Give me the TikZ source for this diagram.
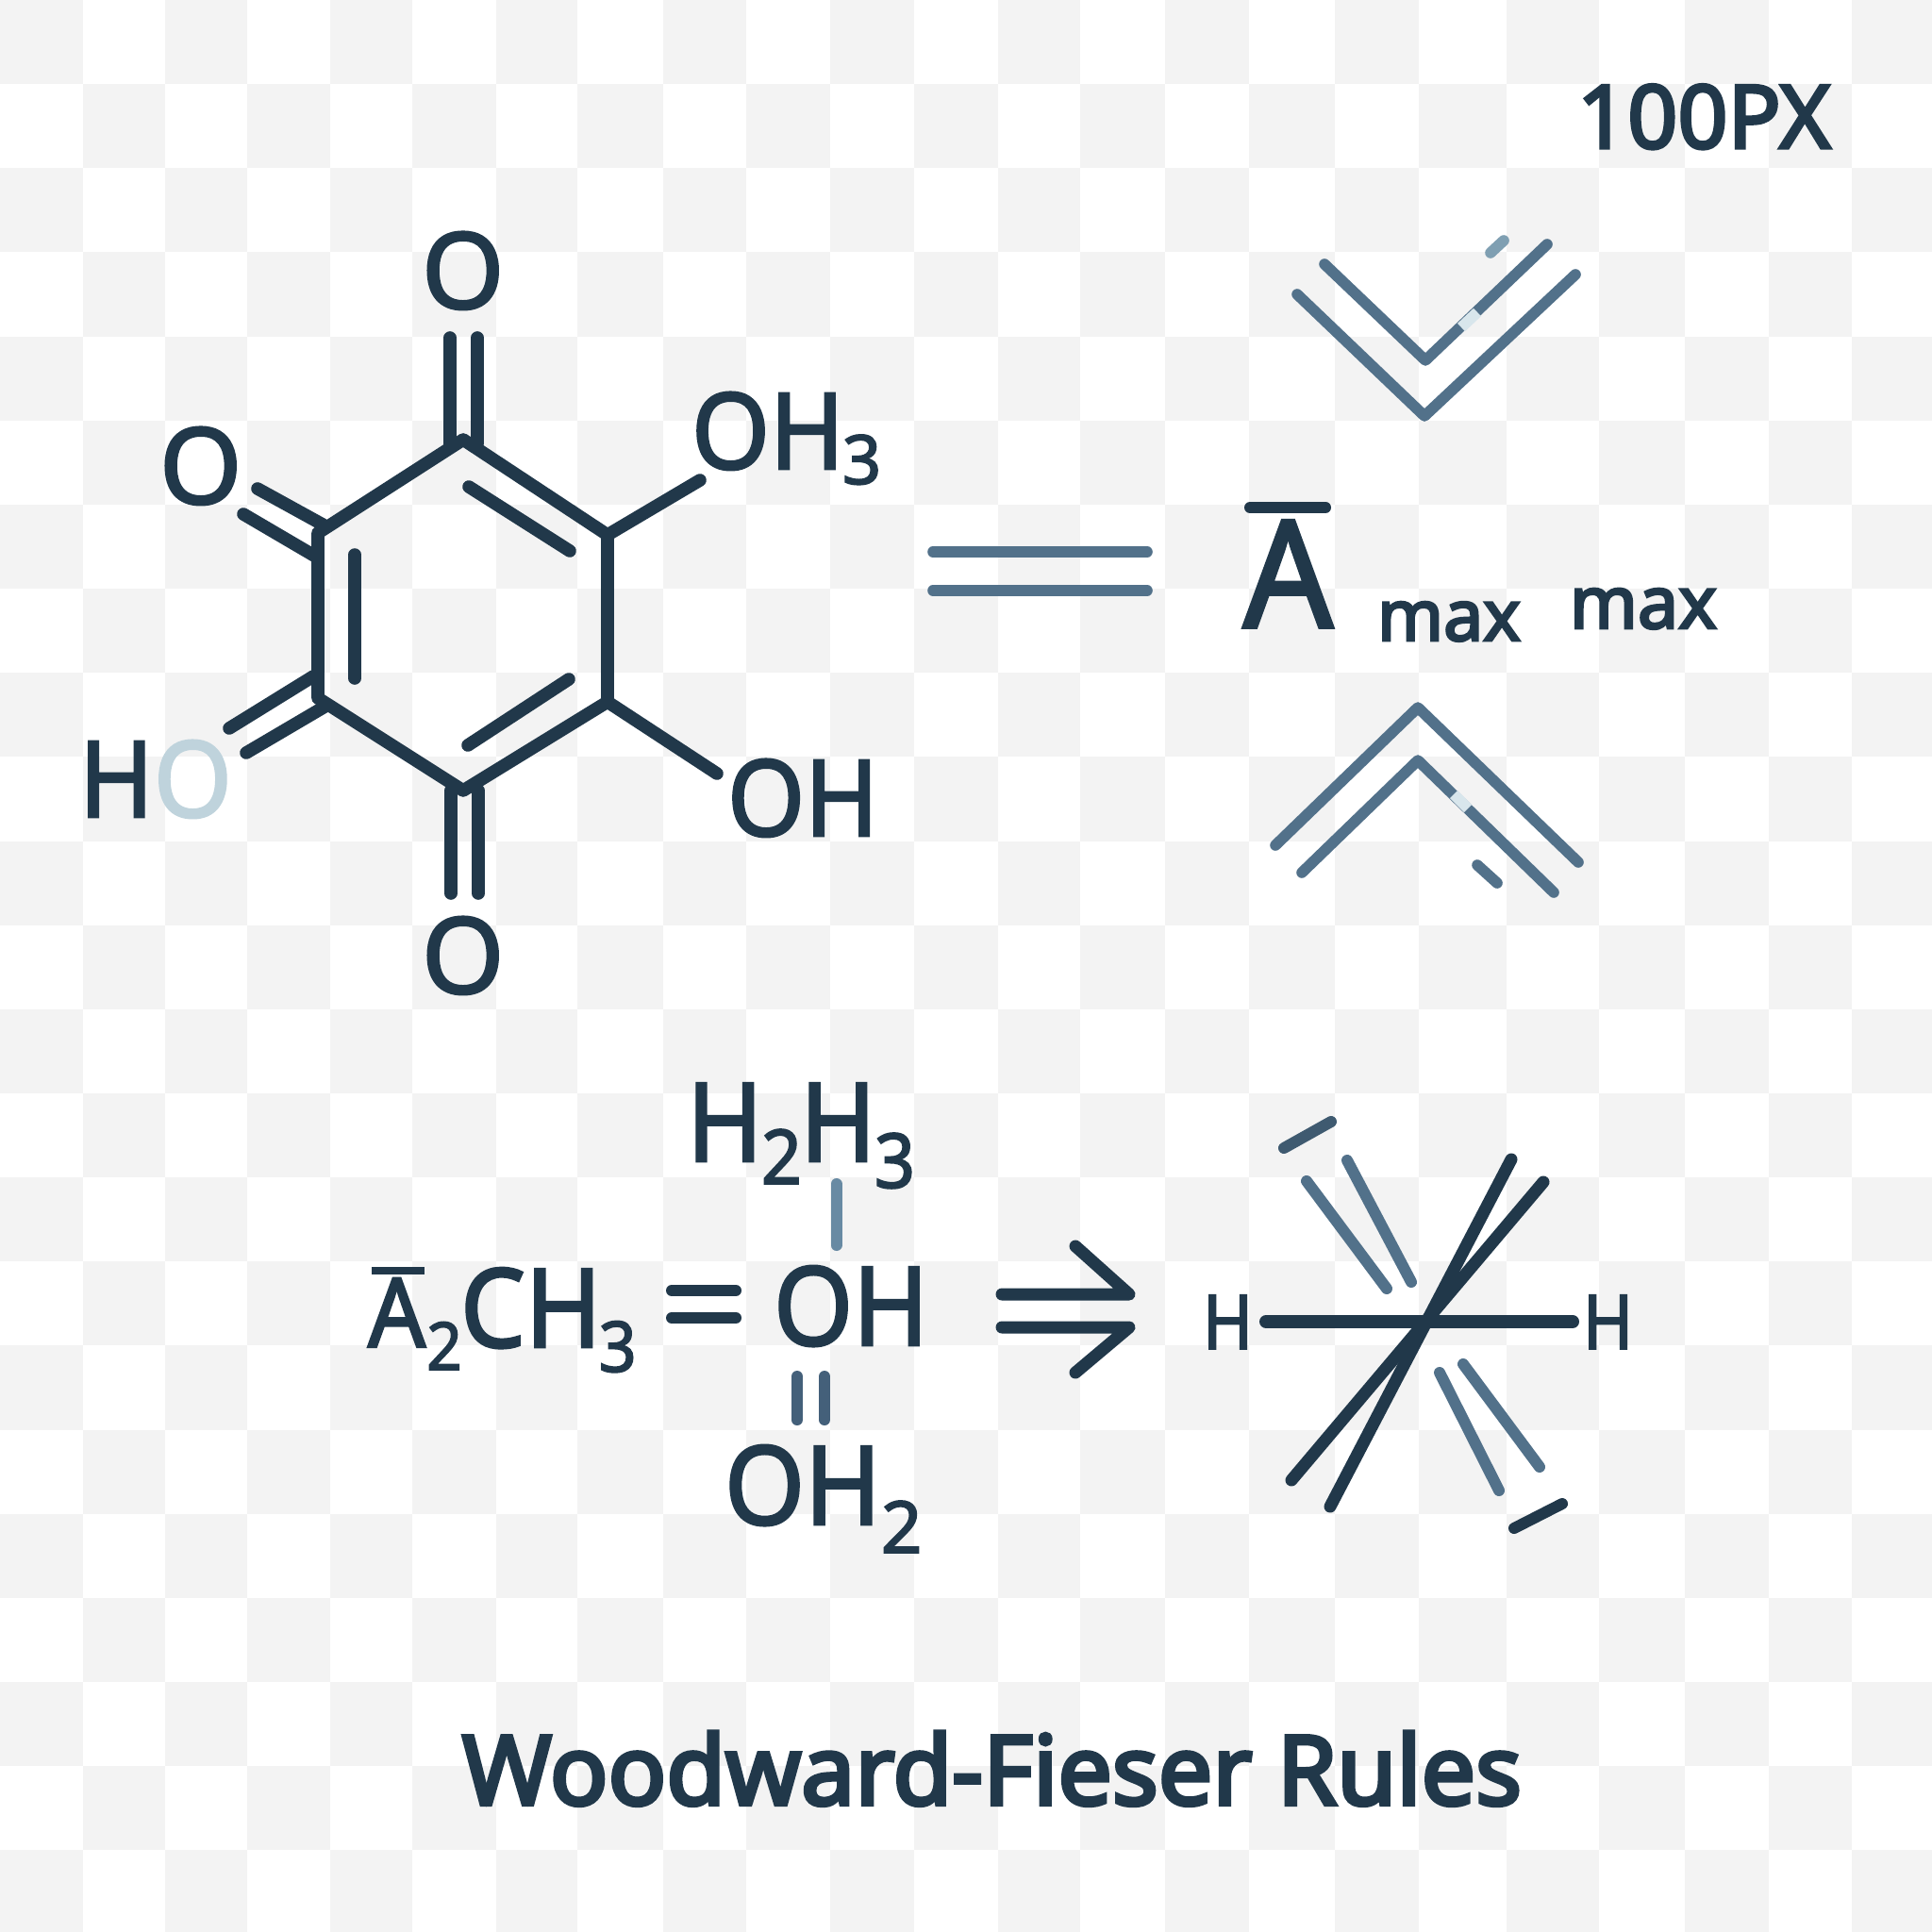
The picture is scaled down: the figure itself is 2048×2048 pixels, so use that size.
\documentclass[tikz,border=0pt]{standalone}
\usepackage{graphicx}
\usepackage{fontspec}
\setmainfont{Noto Sans}
\newfontfamily\lab[FakeBold=2.4]{Noto Sans}
\newfontfamily\labb[FakeBold=3.6]{Noto Sans}
\newfontfamily\labc[FakeBold=4.2]{Noto Sans}
\definecolor{ink}{HTML}{21384A}
\definecolor{inkd}{HTML}{1C3242}
\definecolor{slate}{HTML}{52718A}
\definecolor{slatelt}{HTML}{7F9FB2}
\definecolor{slatebar}{HTML}{688AA3}
\definecolor{slatedk}{HTML}{44607A}
\definecolor{slatedd}{HTML}{3F5A70}
\definecolor{pale}{HTML}{BFD3DC}
\definecolor{chk}{HTML}{F3F3F3}
\definecolor{glint}{HTML}{D8E6EC}
\newcommand\fsz[1]{\fontsize{#1}{#1}\selectfont}
\newcommand\subd[3]{\raisebox{#1}{\fsz{#2}#3}}
\newcommand\nar[2]{\scalebox{#1}[1]{#2}}
% named segment: both ends become coordinates
\newcommand\seg[6][bond]{\coordinate (#2-a) at (#3,#4);\coordinate (#2-b) at (#5,#6);\draw[#1] (#2-a) -- (#2-b);}
\tikzset{
  bond/.style={draw=ink,line width=6.8pt,line cap=round,line join=round},
  sbond/.style={draw=slate,line width=5.8pt,line cap=round,line join=round},
  thick6/.style={draw=ink,line width=6.5pt,line cap=round,line join=round},
  txt/.style={anchor=base west,inner sep=0pt,outer sep=0pt,text=ink,font=\lab},
}
\begin{document}
\begin{tikzpicture}[x=0.5pt,y=-0.5pt]
\useasboundingbox (0,0) rectangle (2048,2048);
\clip (0,0) rectangle (2048,2048);
\fill[white] (0,0) rectangle (2048,2048);
\foreach \xa/\xb/\c in {0/88/0,88/175/1,175/262/2,262/350/3,350/437/4,437/526/5,526/612/6,612/703/7,703/791/8,791/880/9,880/969/10,969/1058/11,1058/1145/12,1145/1235/13,1235/1324/14,1324/1415/15,1415/1504/16,1504/1597/17,1597/1695/18,1695/1786/19,1786/1875/20,1875/1963/21,1963/2048/22}{
  \foreach \r in {0,...,22}{
    \pgfmathtruncatemacro{\m}{mod(\c+\r,2)}
    \ifnum\m=0
      \fill[chk] (\xa,{89.15*\r}) rectangle (\xb,{89.15*(\r+1)});
    \fi
  }
}
% ring
\coordinate (c1) at (491,466);
\coordinate (c2) at (644,567);
\coordinate (c3) at (644,744);
\coordinate (c4) at (491,838);
\coordinate (c5) at (337,740);
\coordinate (c6) at (337,565);
\draw[bond] (c1) -- (c2) -- (c3) -- (c4) -- (c5) -- (c6) -- cycle;
\seg{topa}{477}{358}{477}{470}
\seg{topb}{506}{358}{506}{470}
\seg{bota}{478}{838}{478}{947}
\seg{botb}{507}{838}{507}{947}
\seg{lua}{273}{518}{342}{556}
\seg{lub}{258}{545}{333}{589}
\seg{lla}{332}{717}{243}{772}
\seg{llb}{346}{748}{261}{798}
\seg{ina}{376}{588}{376}{719}
\seg{inb}{497}{516}{604}{584}
\seg{inc}{603}{720}{496}{790}
\seg{me}{644}{567}{742}{509}
\seg{oh}{644}{744}{760}{820}
\node[txt] (otop) at (447,327) {\fsz{56}O};
\node[txt] (oleft) at (169,534) {\fsz{56}O};
\node[txt] (oh3) at (733,497) {\fsz{56}\nar{.95}{OH}\kern-1pt\subd{-8pt}{36}{3}};
\node[txt] (ho) at (84,866) {\fsz{56}\nar{.95}{H\textcolor{pale}{O}}};
\node[txt] (ohr) at (771,886) {\fsz{56}\nar{.94}{OH}};
\node[txt] (obot) at (447,1053) {\fsz{56}O};
% top-right
\node[txt,font=\labb] (px) at (1672,157) {\fsz{46.5}100PX};
% upper chevron
\coordinate (va) at (1375,312);\coordinate (vb) at (1510,441);\coordinate (vc) at (1670,291);
\draw[sbond] (va) -- (vb) -- (vc);
\coordinate (wa) at (1404,280);\coordinate (wb) at (1511,382);\coordinate (wc) at (1640,259);
\draw[sbond] (wa) -- (wb) -- (wc);
\seg[sbond,draw=glint,line cap=butt]{gl1}{1549}{347}{1566}{331}
\seg[sbond,draw=slatelt]{d1}{1580}{268}{1594}{255}
% equals
\seg[sbond]{eqa}{989}{585}{1216}{585}
\seg[sbond]{eqb}{989}{626}{1216}{626}
% A max max
\seg[thick6,line width=6pt]{abar}{1325}{538}{1405}{538}
\node[txt] (abig) at (1318,665) {\fsz{79}\nar{.94}{A}};
\node[txt,font=\labb] (max1) at (1460,679) {\fsz{37.5}max};
\node[txt,font=\labb] (max2) at (1664,666) {\fsz{38.5}max};
% lower chevron
\coordinate (xa) at (1352,896);\coordinate (xb) at (1503,750);\coordinate (xc) at (1673,914);
\draw[sbond] (xa) -- (xb) -- (xc);
\coordinate (ya) at (1380,925);\coordinate (yb) at (1503,806);\coordinate (yc) at (1647,946);
\draw[sbond] (ya) -- (yb) -- (yc);
\seg[sbond,draw=glint,line cap=butt]{gl2}{1541}{842}{1556}{857}
\seg[sbond]{d2}{1566}{917}{1587}{936}
% lower formulae
\node[txt] (h2h3) at (728,1231) {\fsz{58}\nar{.94}{H\kern-1pt\subd{-12pt}{40}{2}\kern-1pt H\kern-1pt\subd{-14pt}{40}{3}}};
\seg[sbond,draw=slatebar,line width=6pt]{v1}{886.5}{1255}{886.5}{1320}
\seg[thick6,line width=6pt]{eq1}{712}{1368}{780}{1368}
\seg[thick6,line width=6pt]{eq2}{712}{1397}{780}{1397}
\seg[thick6,line width=4.2pt,line cap=butt]{abar2}{394}{1347}{450}{1347}
\node[txt] (a2) at (390,1428) {\nar{.94}{\fsz{51}A\kern.5pt\subd{-12pt}{35}{2}\kern-1pt\fsz{58}CH\kern-1.5pt\subd{-13pt}{37}{3}}};
\node[txt] (ohm) at (820,1426) {\fsz{58}\nar{.93}{OH}};
\seg[sbond,draw=slatedk,line width=6pt]{v2}{845}{1459}{845}{1505}
\seg[sbond,draw=slatedk,line width=6pt]{v3}{874}{1459}{874}{1505}
\node[txt] (oh2) at (768,1616) {\fsz{58}\nar{.94}{OH}\subd{-15pt}{38}{2}};
% arrow
\coordinate (ar1) at (1062,1372);\coordinate (ar2) at (1197,1372);\coordinate (ar3) at (1140,1321);
\draw[thick6] (ar1) -- (ar2) -- (ar3);
\coordinate (ar4) at (1062,1407);\coordinate (ar5) at (1197,1407);\coordinate (ar6) at (1140,1455);
\draw[thick6] (ar4) -- (ar5) -- (ar6);
% cross
\node[txt] (hl) at (1275,1430) {\fsz{40}\nar{.9}{H}};
\node[txt] (hr) at (1678,1430) {\fsz{40}\nar{.9}{H}};
\seg[thick6,line width=7pt]{xh}{1342}{1401}{1667}{1401}
\seg[bond,line width=6.5pt]{x1}{1602}{1229}{1410}{1597}
\seg[bond,line width=6.5pt]{x2}{1636}{1253}{1369}{1569}
\seg[sbond,line width=6pt]{s1}{1385}{1252}{1470}{1366}
\seg[sbond,line width=6pt]{s2}{1428}{1230}{1496}{1359}
\seg[sbond,line width=6pt]{s3}{1551}{1446}{1632}{1555}
\seg[sbond,line width=6pt]{s4}{1526}{1455}{1589}{1580}
\seg[sbond,draw=slatedd,line width=6pt]{s5}{1361}{1217}{1411}{1189}
\seg[bond,line width=6pt]{s6}{1605}{1620}{1656}{1594}
% title
\node[txt,font=\labc] (title) at (490,1913) {\fsz{51}Woodward-Fieser Rules};
\end{tikzpicture}
\end{document}
